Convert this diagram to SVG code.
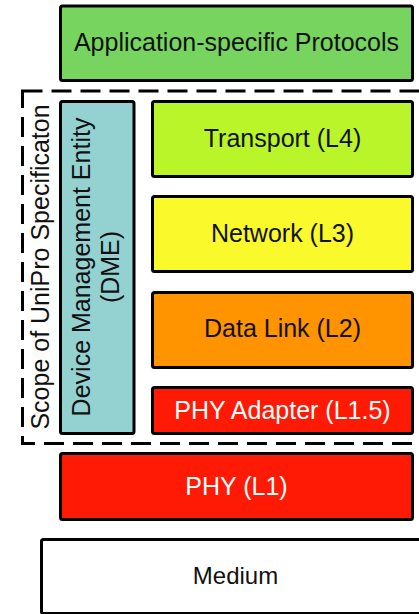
<svg xmlns="http://www.w3.org/2000/svg" width="419" height="614" viewBox="0 0 419 614">
  <style>
    .box { stroke: #000; stroke-width: 3; }
    .t { font-family: "Liberation Sans", Arial, sans-serif; font-size: 25px; fill: #111; text-anchor: middle; }
    .w { fill: #fff; }
    .scope { fill: none; stroke: #000; stroke-width: 3; stroke-dasharray: 20 9; }
  </style>
  <rect width="419" height="614" fill="#fff"/>
  <g id="scope">
    <rect class="scope" x="22.5" y="91" width="410" height="352.5"/>
    <text class="t" transform="translate(48.5,267) rotate(-90)">Scope of UniPro Specificaton</text>
  </g>
  <g id="app">
    <rect class="box" x="60.5" y="6" width="352" height="74.5" rx="2" fill="#77d45f"/>
    <text class="t" x="236.5" y="51">Application-specific Protocols</text>
  </g>
  <g id="dme">
    <rect class="box" x="60.5" y="101.5" width="73.5" height="332" rx="2" fill="#94d2d2"/>
    <text class="t" transform="translate(90,267) rotate(-90)">Device Management Entity</text>
    <text class="t" transform="translate(118.5,267) rotate(-90)">(DME)</text>
  </g>
  <g id="transport">
    <rect class="box" x="152.5" y="101.5" width="260" height="75" rx="2" fill="#baf52a"/>
    <text class="t" x="282.5" y="147">Transport (L4)</text>
  </g>
  <g id="network">
    <rect class="box" x="152.5" y="196.5" width="260" height="75" rx="2" fill="#f9f92c"/>
    <text class="t" x="282.5" y="242">Network (L3)</text>
  </g>
  <g id="datalink">
    <rect class="box" x="152.5" y="292.5" width="260" height="75" rx="2" fill="#ff9300"/>
    <text class="t" x="282.5" y="337">Data Link (L2)</text>
  </g>
  <g id="phyadapter">
    <rect class="box" x="152.5" y="387.5" width="260" height="46" rx="2" fill="#ff1a05"/>
    <text class="t w" x="282.5" y="418.5">PHY Adapter (L1.5)</text>
  </g>
  <g id="phy">
    <rect class="box" x="60.5" y="453.5" width="352" height="66" rx="2" fill="#ff1a05"/>
    <text class="t w" x="236.5" y="495">PHY (L1)</text>
  </g>
  <g id="medium">
    <rect class="box" x="41.5" y="539.5" width="400" height="74" rx="2" fill="#fff"/>
    <text class="t" x="235.5" y="583.5" style="font-size:24px">Medium</text>
  </g>
  <g id="connectors"></g>
</svg>
